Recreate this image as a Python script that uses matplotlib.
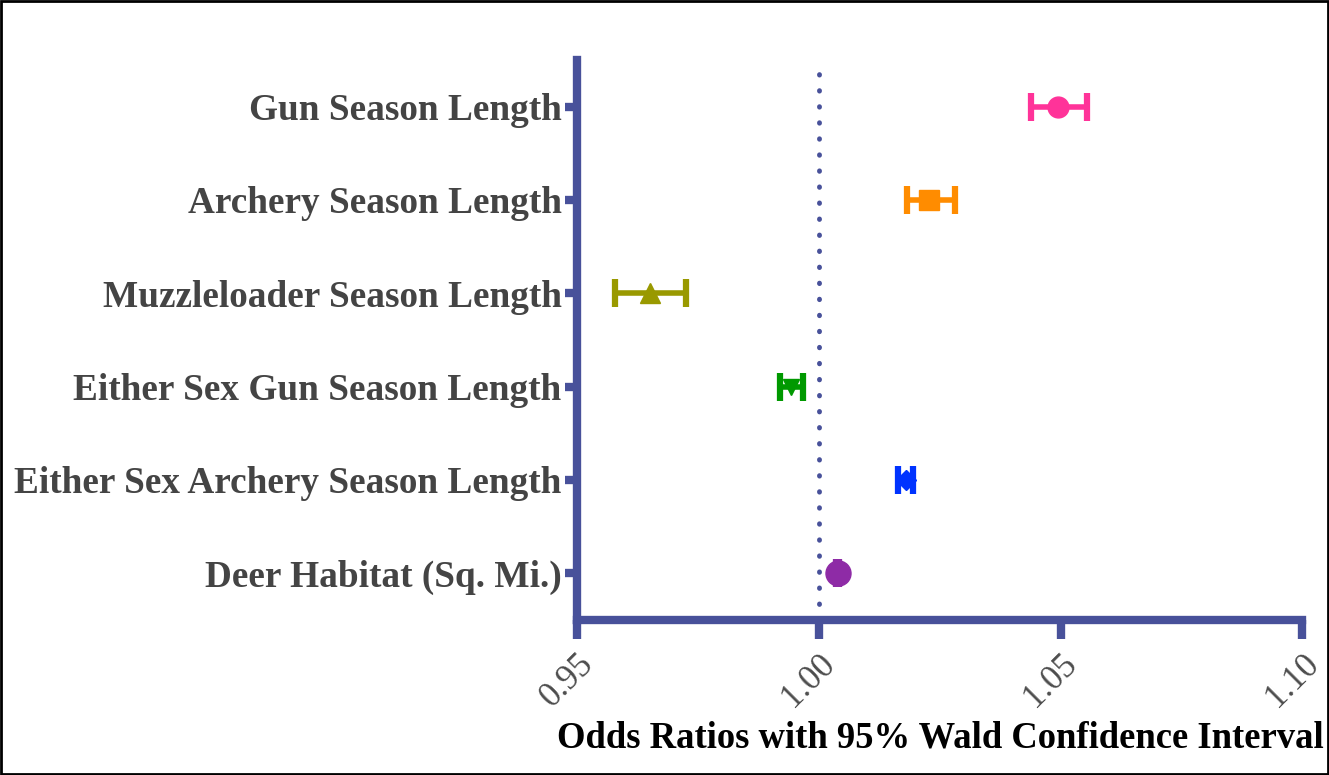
import matplotlib
matplotlib.use("Agg")
import matplotlib.pyplot as plt
from matplotlib.patches import Rectangle

# Data (odds ratios and 95% Wald CI)
labels = [
    "Gun Season Length",
    "Archery Season Length",
    "Muzzleloader Season Length",
    "Either Sex Gun Season Length",
    "Either Sex Archery Season Length",
    "Deer Habitat (Sq. Mi.)",
]
odds = [1.0494, 1.0229, 0.9651, 0.9942, 1.0180, 1.0039]
lower = [1.0438, 1.0182, 0.9579, 0.9921, 1.0163, 1.0035]
upper = [1.0554, 1.0281, 0.9725, 0.9967, 1.0194, 1.0043]
colors = ["#FF3399", "#FF8C00", "#999900", "#009900", "#0033FF", "#8E2BA6"]
markers = ["o", "s", "^", "v", "D", "o"]
msizes = [15, 14, 15, 12, 10, 18]
xticks = [0.95, 1.00, 1.05, 1.10]

AX_COL = "#48519A"
SERIF = ["Liberation Serif", "DejaVu Serif"]

fig = plt.figure(figsize=(13.29, 7.75), dpi=100)
ax = fig.add_axes([0.434, 0.2, 0.546, 0.7226])

ypos = list(range(len(labels), 0, -1))
for y, o, lo, hi, c, m, ms in zip(ypos, odds, lower, upper, colors, markers, msizes):
    _, caps, _ = ax.errorbar(o, y, xerr=[[o - lo], [hi - o]], fmt=m, color=c,
                             ecolor=c, markersize=ms, elinewidth=4, capsize=10,
                             capthick=4.5, zorder=3)

ax.axvline(1.0, color=AX_COL, linestyle=(0, (0.1, 3.2)), linewidth=3.5,
           dash_capstyle="round", zorder=2)

ax.set_xlim(0.95, 1.10)
ax.set_ylim(0.5, 6.5)
ax.set_xticks(xticks)
ax.set_xticklabels([f"{t:.2f}" for t in xticks], rotation=45, ha="right",
                   rotation_mode="anchor", fontsize=25, color="#4D4D4D",
                   family=SERIF)
ax.set_yticks(ypos)
ax.set_yticklabels(labels, fontsize=26.8, fontweight="bold", color="#444444",
                   family=SERIF)

for side in ["top", "right"]:
    ax.spines[side].set_visible(False)
for side in ["left", "bottom"]:
    ax.spines[side].set_color(AX_COL)
    ax.spines[side].set_linewidth(6)
ax.tick_params(axis="x", length=14, width=6, color=AX_COL, pad=6)
ax.tick_params(axis="y", length=9, width=6, color=AX_COL, pad=2)

fig.text(0.996, 0.048, "Odds Ratios with 95% Wald Confidence Interval",
         ha="right", va="center", fontsize=26.4, fontweight="bold",
         color="black", family=SERIF)

fig.patches.append(Rectangle((0.001, 0.001), 0.998, 0.998, transform=fig.transFigure,
                             fill=False, edgecolor="black", linewidth=2))

fig.savefig("out.png", dpi=100)
